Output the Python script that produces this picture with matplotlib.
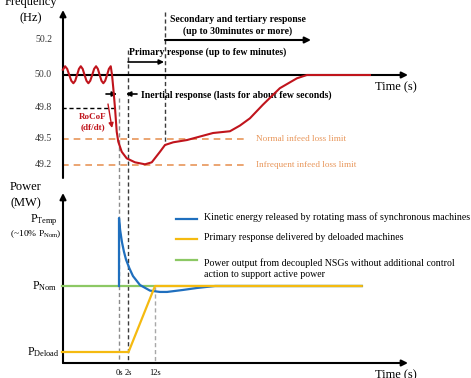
import numpy as np
import matplotlib
matplotlib.use('Agg')
import matplotlib.pyplot as plt
import matplotlib.transforms as mtransforms

plt.rcParams['font.family'] = ['Liberation Serif', 'DejaVu Serif']

W, H = 471, 378

# schematic time axis: seconds -> horizontal pixel position
t_knots = [-26.5, 0, 2, 12, 120, 1800, 2800]
x_knots = [0, 119, 128, 155, 165, 408, 553]

# schematic frequency axis: Hz -> vertical pixel position (from top)
f_knots = [45.0, 49.2, 49.5, 49.8, 50.0, 50.2, 52.0]
y_knots = [529, 165, 139, 108, 75, 40, -275]

# power axis (p.u. of P_Nom): pixel = p_base - p_slope * (p - 1)
p_base, p_slope = 286, 660

# frequency trace (s, Hz)
freq_t = [-12.5, -12.0, -11.54, -11.08, -10.62, -10.16, -9.75, -9.34, -8.92, -8.51,
          -8.09, -7.67, -7.24, -6.82, -6.4, -5.97, -5.54, -5.11, -4.71, -4.3,
          -3.9, -3.49, -3.08, -2.66, -2.25, -1.84, -1.55, -1.27, -0.89, -0.51,
          -0.16, 0.6, 1.71, 4.59, 8.3, 10.8, 66, 120, 177, 272,
          452, 569, 638, 707, 797, 914, 1032, 1101, 1537]
freq_hz = [50.03, 50.05, 50.035, 50.0, 49.965, 49.95, 49.965, 50.0, 50.035, 50.05,
           50.035, 50.0, 49.965, 49.95, 49.965, 50.0, 50.035, 50.05, 50.035, 50.0,
           49.965, 49.95, 49.965, 50.0, 50.035, 50.05, 50.0, 49.92, 49.8, 49.571,
           49.469, 49.353, 49.277, 49.231, 49.208, 49.231, 49.353, 49.431, 49.462, 49.488,
           49.558, 49.575, 49.63, 49.70, 49.82, 49.92, 49.98, 50.0, 50.0]

freq_ticks = [50.2, 50.0, 49.8, 49.5, 49.2]
limit_hz = [49.5, 49.2]
limit_labels = ['Normal infeed loss limit', 'Infrequent infeed loss limit']
limit_t = [-12.7, 690]

# power traces (s, p.u.)
green_t = [-12.7, 1480]
green_p = [1.0, 1.0]
yellow_t = [-12.7, 2.2, 12, 1480]
yellow_p = [0.9, 0.9, 1.0, 1.0]
blue_t = [0, 0, 0.25, 0.67, 1.1, 1.56, 2.5, 3.85, 6.44, 10.15, 12, 66, 134, 244, 341, 466, 1480]
blue_p = [1.0, 1.103, 1.085, 1.066, 1.052, 1.04, 1.027, 1.015, 1.0015, 0.993, 0.992,
          0.991, 0.991, 0.994, 0.997, 1.0, 1.0]

time_ticks = [0, 2, 12]
time_labels = ['0s', '2s', '12s']
legend_labels = ['Kinetic energy released by rotating mass of synchronous machines',
                 'Primary response delivered by deloaded machines',
                 'Power output from decoupled NSGs without additional control\naction to support active power']

c_red = '#c0141c'
c_orange = '#e8965a'
c_blue = '#1f6fbe'
c_yellow = '#f5ba10'
c_green = '#8cc864'


def t_fwd(t):
    return np.interp(t, t_knots, x_knots)


def t_inv(x):
    return np.interp(x, x_knots, t_knots)


def f_fwd(f):
    return H - np.interp(f, f_knots, y_knots)


def f_inv(v):
    return np.interp(H - np.asarray(v), y_knots[::-1], f_knots[::-1])


fig = plt.figure(figsize=(W / 100, H / 100), dpi=100)
pix = mtransforms.Affine2D().scale(1 / W, -1 / H).translate(0, 1) + fig.transFigure

ax1 = fig.add_axes([0, 0, 1, 1])
ax1.set_xscale('function', functions=(t_fwd, t_inv))
ax1.set_yscale('function', functions=(f_fwd, f_inv))
ax1.set_xlim(t_inv(0), t_inv(W))
ax1.set_ylim(f_inv(0), f_inv(H))
ax1.axis('off')

ax2 = fig.add_axes([0, 0, 1, 1])
ax2.set_xscale('function', functions=(t_fwd, t_inv))
ax2.set_xlim(t_inv(0), t_inv(W))
ax2.set_ylim(1 - (H - p_base) / p_slope, 1 + p_base / p_slope)
ax2.patch.set_alpha(0)
ax2.axis('off')

tx1 = mtransforms.blended_transform_factory(ax1.transData, pix)
ty1 = mtransforms.blended_transform_factory(pix, ax1.transData)
ty2 = mtransforms.blended_transform_factory(pix, ax2.transData)

arrow = dict(arrowstyle='-|>', color='black', lw=1.5, mutation_scale=9, shrinkA=0, shrinkB=0)
small_arrow = dict(arrowstyle='-|>', color='black', lw=1.2, mutation_scale=7, shrinkA=0, shrinkB=0)

# ---------- frequency panel ----------
ax1.annotate('', xy=(63, 10), xytext=(63, 178), xycoords=pix, textcoords=pix, arrowprops=arrow)
ax1.annotate('', xy=(408, 75), xytext=(63, 75), xycoords=pix, textcoords=pix, arrowprops=arrow)
ax1.text(31, 2, 'Frequency', transform=pix, ha='center', va='center', fontsize=9)
ax1.text(31, 18, '(Hz)', transform=pix, ha='center', va='center', fontsize=9)
ax1.text(396, 87, 'Time (s)', transform=pix, ha='center', va='center', fontsize=9)
for f in freq_ticks:
    ax1.text(52, f, f'{f:.1f}', transform=ty1, ha='right', va='center', fontsize=7, color='#333333')

# dashed guides
ax1.plot([-12.7, -0.9], [49.8, 49.8], color='black', lw=1, ls=(0, (3, 2)))
for hz, lab in zip(limit_hz, limit_labels):
    ax1.plot(limit_t, [hz, hz], color=c_orange, lw=1.2, ls=(0, (4, 3)))
    ax1.text(749, hz, lab, ha='left', va='center', fontsize=6.6, color=c_orange)

ax1.plot([time_ticks[0]] * 2, [98, 363], transform=tx1, color='#8c8c8c', lw=1, ls=(0, (3, 2)))
ax1.plot([time_ticks[1]] * 2, [50, 363], transform=tx1, color='#3a3a3a', lw=1, ls=(0, (3, 2)))
ax1.plot([time_ticks[2]] * 2, [287, 363], transform=tx1, color='#a8a8a8', lw=1, ls=(0, (3, 2)))
ax1.plot([120, 120], [12, 145], transform=tx1, color='#3a3a3a', lw=1, ls=(0, (3, 2)))

ax1.plot(freq_t, freq_hz, color=c_red, lw=1.5, zorder=5)

# response annotations
ax1.annotate('', xy=(311, 40), xytext=(165, 40), xycoords=pix, textcoords=pix, arrowprops=arrow)
ax1.text(238, 19, 'Secondary and tertiary response', transform=pix, ha='center', va='center',
         fontsize=7, fontweight='bold')
ax1.text(238, 31, '(up to 30minutes or more)', transform=pix, ha='center', va='center',
         fontsize=7, fontweight='bold')
ax1.annotate('', xy=(164, 62), xytext=(128, 62), xycoords=pix, textcoords=pix, arrowprops=small_arrow)
ax1.text(129, 52, 'Primary response (up to few minutes)', transform=pix, ha='left', va='center',
         fontsize=7, fontweight='bold')
ax1.annotate('', xy=(117, 94), xytext=(106, 94), xycoords=pix, textcoords=pix, arrowprops=small_arrow)
ax1.annotate('', xy=(126, 94), xytext=(137, 94), xycoords=pix, textcoords=pix, arrowprops=small_arrow)
ax1.text(141, 95, 'Inertial response (lasts for about few seconds)', transform=pix, ha='left',
         va='center', fontsize=7, fontweight='bold')
ax1.annotate('', xy=(112, 128), xytext=(108, 104), xycoords=pix, textcoords=pix,
             arrowprops=dict(arrowstyle='-|>', color=c_red, lw=1, mutation_scale=7, shrinkA=0, shrinkB=0))
ax1.text(93, 117, 'RoCoF', transform=pix, ha='center', va='center', fontsize=6.5,
         color=c_red, fontweight='bold')
ax1.text(93, 127, '(df/dt)', transform=pix, ha='center', va='center', fontsize=6.5,
         color=c_red, fontweight='bold')

# ---------- power panel ----------
ax2.annotate('', xy=(63, 193), xytext=(63, 363), xycoords=pix, textcoords=pix, arrowprops=arrow)
ax2.annotate('', xy=(408, 363), xytext=(63, 363), xycoords=pix, textcoords=pix, arrowprops=arrow)
ax2.text(26, 187, 'Power', transform=pix, ha='center', va='center', fontsize=9)
ax2.text(26, 203, '(MW)', transform=pix, ha='center', va='center', fontsize=9)
ax2.text(396, 375, 'Time (s)', transform=pix, ha='center', va='center', fontsize=9)

ax2.text(58, 1.1, r'$\mathregular{P_{Temp}}$', transform=ty2, ha='right', va='center', fontsize=8.5)
ax2.text(62, 1.1 - 14 / p_slope, r'(~10% $\mathregular{P_{Nom}}$)', transform=ty2, ha='right',
         va='center', fontsize=6.8)
ax2.text(57, 1.0, r'$\mathregular{P_{Nom}}$', transform=ty2, ha='right', va='center', fontsize=8.5)
ax2.text(59, 0.9, r'$\mathregular{P_{Deload}}$', transform=ty2, ha='right', va='center', fontsize=8.5)

tx2 = mtransforms.blended_transform_factory(ax2.transData, pix)
for t, lab in zip(time_ticks, time_labels):
    ax2.text(t, 373, lab, transform=tx2, ha='center', va='center', fontsize=6)

ax2.plot(green_t, green_p, color=c_green, lw=1.6, zorder=3)
ax2.plot(blue_t, blue_p, color=c_blue, lw=1.6, zorder=4)
ax2.plot(yellow_t, yellow_p, color=c_yellow, lw=1.6, zorder=5)

# legend
for yy, col, lab in zip([219, 239, 260], [c_blue, c_yellow, c_green], legend_labels):
    ax2.plot([176, 197], [yy, yy], transform=pix, color=col, lw=1.6)
    ax2.text(204, yy - 1.5, lab, transform=pix, ha='left', va='top' if '\n' in lab else 'center',
             fontsize=7.1, linespacing=1.2)

fig.savefig('out.png', dpi=100)
